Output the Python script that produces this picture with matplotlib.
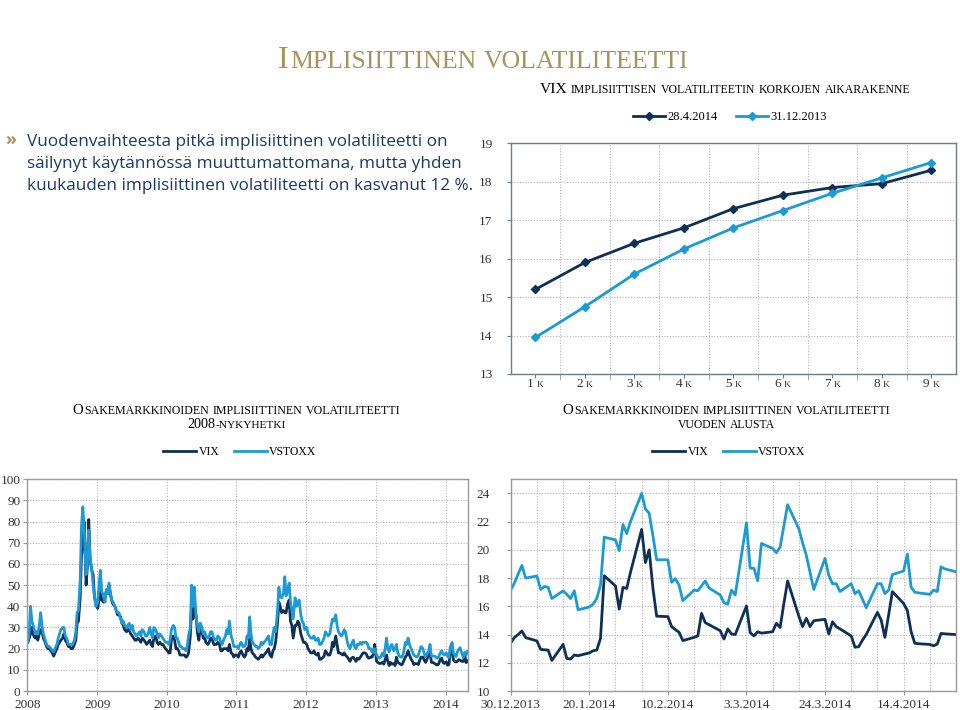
import matplotlib
matplotlib.use("Agg")
import matplotlib.pyplot as plt
import numpy as np
import pandas as pd

###############################################################
#                       data
###############################################################
terms = ["1 k", "2 k", "3 k", "4 k", "5 k", "6 k", "7 k", "8 k", "9 k"]
curve_2804 = [15.2, 15.9, 16.4, 16.8, 17.3, 17.65, 17.85, 17.95, 18.3]
curve_3112 = [13.95, 14.75, 15.6, 16.25, 16.8, 17.25, 17.7, 18.1, 18.5]

# 2008 - 2014, four readings per month (days 4, 11, 18, 25)
vix_long = [
    # 2008
    23, 25, 27, 30, 26, 25, 26, 24, 27, 29, 28, 25,
    23, 21, 20, 20, 19, 18, 16.5, 18, 20, 22, 23, 24,
    25, 27, 24, 23, 21, 21, 20, 20, 22, 24, 32, 33,
    44, 64, 69, 80, 50, 59, 81, 62, 57, 55, 44, 42,
    # 2009
    39, 43, 47, 43, 42, 45, 47, 46, 50, 46, 43, 41,
    40, 38, 36, 36, 35, 32, 31, 29, 28, 29, 29, 27,
    26, 25, 24, 24, 25, 24, 23, 25, 24, 23, 22, 23,
    24, 22, 21, 25, 26, 23, 22, 23, 22, 22, 21, 20,
    # 2010
    19, 18, 18, 24, 26, 24, 20, 20, 19, 17, 17, 17,
    17, 16, 16.5, 18, 26, 40, 34, 41, 35, 27, 24, 30,
    28, 25, 25, 23, 22, 23, 25, 25, 22, 22, 22, 23,
    22, 19, 19, 20, 20, 20, 19, 22, 18, 17.5, 16, 17,
    # 2011
    17, 16, 18, 19, 17, 16, 17, 20, 19, 25, 20, 18,
    17, 16, 15.5, 15, 16, 17, 16, 17, 18, 19, 20, 17,
    16, 19, 20, 23, 32, 42, 40, 37, 38, 37, 37, 41,
    43, 33, 31, 25, 31, 31, 33, 32, 27, 25, 23, 23,
    # 2012
    22, 20, 19, 18, 18, 19, 17.5, 17, 18, 15, 15, 15.5,
    16.5, 19, 18, 17, 17, 19, 23, 21, 26, 22, 18, 18,
    17.5, 17, 18, 17, 16, 15, 14, 15.5, 16, 15, 14, 15.5,
    15, 16, 17, 18, 18, 17.5, 16, 15.5, 16, 16, 17.5, 22,
    # 2013
    14, 13.5, 13, 13, 13.5, 12.7, 15, 17, 14, 12, 13.5, 12.7,
    13, 12, 16, 13.5, 13, 12.5, 12.5, 14, 16, 17, 19, 17,
    15, 14, 12.5, 13, 12.8, 12.5, 14.5, 16, 16, 14.5, 13.5, 15,
    17, 19, 13.5, 13.5, 13, 12.5, 12.3, 12.7, 15, 15.5, 13.5, 13,
    # 2014
    13.8, 12.2, 12.5, 18.2, 19.1, 14.6, 13.9, 13.7,
    14.1, 14.8, 14.6, 14.0, 14.0, 17.0, 13.4, 14.1,
]
vstoxx_long = [
    # 2008
    23, 28, 40, 33, 30, 27, 28, 27, 31, 37, 31, 27,
    24, 22, 21, 21, 20, 19, 18.5, 20, 22, 25, 27, 29,
    30, 30, 26, 25, 22, 22, 22, 22, 24, 28, 37, 38,
    52, 78, 87, 76, 55, 60, 76, 63, 57, 50, 45, 40,
    # 2009
    42, 50, 57, 47, 45, 42, 48, 46, 51, 47, 43, 42,
    40, 38, 37, 37, 34, 32, 33, 31, 30, 31, 32, 29,
    31, 28, 27, 26, 27, 28, 26, 29, 28, 26, 26, 27,
    30, 27, 25, 30, 29, 27, 25, 27, 26, 25, 24, 23,
    # 2010
    23, 22, 24, 29, 31, 30, 25, 25, 23, 21, 21, 20,
    20, 19, 21, 26, 30, 50, 40, 49, 34, 31, 28, 32,
    30, 27, 28, 26, 25, 26, 28, 28, 25, 24, 24, 26,
    25, 23, 22, 24, 26, 29, 27, 33, 26, 24, 21, 21,
    # 2011
    21, 20, 22, 23, 21, 21, 22, 26, 25, 35, 27, 23,
    22, 21, 21, 20, 21, 23, 22, 23, 24, 25, 26, 22,
    22, 27, 30, 28, 38, 49, 45, 44, 46, 54, 45, 47,
    51, 42, 38, 34, 44, 40, 41, 43, 36, 33, 32, 29,
    # 2012
    30, 27, 26, 25, 25, 26, 24, 24, 25, 22, 22, 23,
    25, 28, 27, 26, 27, 31, 34, 33, 36, 31, 28, 27,
    26, 27, 29, 28, 23, 21, 20, 22, 24, 21, 20, 22,
    22, 23, 22, 23, 23, 23, 22, 20, 20, 18.5, 18, 20,
    # 2013
    17, 16, 15.5, 16, 18, 16.5, 20, 25, 20, 18.5, 21, 22,
    19, 20, 22, 18, 16.5, 16, 16, 18, 23, 22, 25, 22,
    20, 18.5, 17, 16.5, 16, 17, 19, 21, 20, 17.5, 16, 17.5,
    19, 22, 16.5, 16.5, 16.5, 16, 15.5, 16, 18, 19, 17.5, 17,
    # 2014
    18.0, 16.6, 15.8, 20.9, 22.9, 17.7, 17.1, 16.3,
    18.7, 19.8, 20.5, 18.2, 15.9, 18.3, 17.0, 18.7,
]

# 30.12.2013 - 28.4.2014, every weekday
vix_ytd = [
    13.42, 13.8, 14.0, 14.25, 13.78,
    13.55, 12.95, 12.92, 12.9, 12.17,
    13.3, 12.3, 12.27, 12.55, 12.5,
    12.7, 12.85, 12.9, 13.73, 18.17,
    17.44, 15.8, 17.34, 17.27, 18.4,
    21.45, 19.1, 20.0, 17.3, 15.3,
    15.27, 14.56, 14.35, 14.16, 13.57,
    13.8, 13.9, 15.5, 14.84, 14.7,
    14.27, 13.68, 14.4, 14.04, 14.0,
    16.02, 14.13, 13.9, 14.2, 14.1,
    14.2, 14.8, 14.5, 16.2, 17.8,
    15.3, 14.56, 15.15, 14.56, 14.98,
    15.08, 14.04, 14.9, 14.56, 14.4,
    13.9, 13.1, 13.14, 13.6, 14.0,
    15.57, 15.03, 13.8, 15.4, 17.04,
    16.2, 15.7, 14.2, 13.38, 13.35,
    13.3, 13.2, 13.33, 14.08, 14.05,
    14.0,
]
vstoxx_ytd = [
    17.15, 17.65, 18.3, 18.9, 18.0,
    18.15, 17.2, 17.4, 17.35, 16.55,
    17.1, 16.85, 16.55, 17.1, 15.75,
    15.95, 16.15, 16.55, 17.5, 20.9,
    20.7, 19.95, 21.8, 21.15, 22.0,
    24.0, 22.9, 22.6, 21.0, 19.3,
    19.3, 17.7, 17.95, 17.5, 16.4,
    17.15, 17.1, 17.45, 17.8, 17.3,
    16.8, 16.25, 16.15, 17.15, 16.8,
    21.9, 18.7, 18.7, 17.8, 20.45,
    20.1, 19.8, 20.2, 21.7, 23.2,
    21.5, 20.5, 19.6, 18.4, 17.2,
    19.4, 18.2, 17.6, 17.6, 17.05,
    17.6, 16.9, 17.1, 16.5, 15.9,
    17.6, 17.6, 16.9, 17.15, 18.25,
    18.5, 19.7, 17.35, 17.0, 16.95,
    16.85, 17.15, 17.05, 18.8, 18.65,
    18.45,
]

dates_long = [pd.Timestamp(y, m, d) for y in range(2008, 2015) for m in range(1, 13)
              for d in (4, 11, 18, 25)]
dates_long = [d for d in dates_long if d <= pd.Timestamp(2014, 4, 28)]
dates_ytd = pd.bdate_range("2013-12-30", "2014-04-28")

###############################################################
#                       style
###############################################################
W, H = 960, 710
DARK = "#0e2f56"
LIGHT = "#1b9ad6"
GOLD = "#a8935c"
GRID = "#b3b3b3"
FRAME = "#9a9a9a"
SERIF = "Liberation Serif"

fig = plt.figure(figsize=(9.6, 7.1), dpi=100)
renderer = fig.canvas.get_renderer()


def fpos(x, y):
    return x / W, 1 - y / H


def case_runs(word):
    runs = []
    for ch in word:
        big = ch.isupper() or ch.isdigit()
        if runs and runs[-1][1] == big:
            runs[-1][0] += ch
        else:
            runs.append([ch, big])
    return runs


def small_caps(x, y, s, size, color="black", ha="center", ratio=0.8, width=None):
    # fake small caps: capitals at full size, the rest as smaller capitals
    def layout(sz):
        a = fig.text(0, 0, "II", fontsize=sz * ratio, family=SERIF)
        b = fig.text(0, 0, "I I", fontsize=sz * ratio, family=SERIF)
        gap = b.get_window_extent(renderer).width - a.get_window_extent(renderer).width
        a.remove()
        b.remove()
        items, xc = [], 0
        for i, word in enumerate(s.split(" ")):
            if i:
                xc += gap
            for chunk, big in case_runs(word):
                t = fig.text(0, 0, chunk.upper(), fontsize=sz if big else sz * ratio,
                             family=SERIF, color=color, va="baseline", ha="left")
                items.append((t, xc))
                xc += t.get_window_extent(renderer).width + 0.6 * sz / 10
        return items, xc

    items, total = layout(size)
    if width is not None:
        for t, _ in items:
            t.remove()
        items, total = layout(size * width / total)
    if ha == "center":
        start = x - total / 2
    elif ha == "right":
        start = x - total
    else:
        start = x
    for t, off in items:
        t.set_position(fpos(start + off, y))


def style_axes(ax, frame=FRAME):
    for sp in ax.spines.values():
        sp.set_color(frame)
        sp.set_linewidth(1.0)
    ax.tick_params(colors="#333333", labelsize=9.5, length=3, color=frame)
    for lab in ax.get_xticklabels() + ax.get_yticklabels():
        lab.set_family(SERIF)


###############################################################
#                       texts
###############################################################
small_caps(484, 68, "Implisiittinen volatiliteetti", 23, color=GOLD, ratio=0.8, width=412)
small_caps(911, 93, "VIX implisiittisen volatiliteetin korkojen aikarakenne", 11,
           ha="right", ratio=0.76, width=370)

para = ["Vuodenvaihteesta pitkä implisiittinen volatiliteetti on",
        "säilynyt käytännössä muuttumattomana, mutta yhden",
        "kuukauden implisiittinen volatiliteetti on kasvanut 12 %."]
probe = fig.text(0, 0, para[0], fontsize=10, family="Open Sans")
psize = 10 * 420 / probe.get_window_extent(renderer).width
probe.remove()
for i, line in enumerate(para):
    fig.text(*fpos(27, 146 + 22 * i), line, fontsize=psize, family="Open Sans",
             color="#1b3a66", va="baseline")
fig.text(*fpos(5, 145), "»", fontsize=psize * 1.05, family="Open Sans", color=GOLD,
         va="baseline", fontweight="bold")

small_caps(237, 414, "Osakemarkkinoiden implisiittinen volatiliteetti", 11, width=330)
small_caps(237, 428, "2008-nykyhetki", 11, width=100)
small_caps(727, 414, "Osakemarkkinoiden implisiittinen volatiliteetti", 11, width=330)
small_caps(727, 428, "vuoden alusta", 11, width=98)

###############################################################
#                   term structure (top right)
###############################################################
ax1 = fig.add_axes([510.7 / W, 1 - 374 / H, 445.3 / W, 230.7 / H])
xs = np.arange(1, len(terms) + 1)
ax1.plot(xs, curve_2804, color=DARK, lw=2, marker="D", ms=4.5, label="28.4.2014")
ax1.plot(xs, curve_3112, color=LIGHT, lw=2, marker="D", ms=4.5, label="31.12.2013")
ax1.set_xlim(0.5, 9.5)
ax1.set_ylim(13, 19)
ax1.set_yticks(range(13, 20))
ax1.set_xticks(xs)
ax1.set_xticklabels([])
ax1.set_xticks(np.arange(1.5, 9.5, 1), minor=True)
ax1.tick_params(axis="x", which="major", length=0)
ax1.tick_params(axis="x", which="minor", length=4, color=FRAME)
ax1.tick_params(axis="y", length=0, pad=10)
ax1.grid(axis="y", color=GRID, ls=(0, (1, 1.5)), lw=0.8)
ax1.grid(axis="x", which="minor", color=GRID, ls=(0, (1, 1.5)), lw=0.8)
style_axes(ax1, frame="#6f7d88")
ax1.legend(loc="center", bbox_to_anchor=fpos(730, 117), bbox_transform=fig.transFigure,
           ncol=2, frameon=False, handlelength=2.6, columnspacing=1.4, handletextpad=0.2,
           prop={"family": SERIF, "size": 9})
for xi, term in zip(xs, terms):
    xd, _ = ax1.transData.transform((xi, 13))
    small_caps(xd, 387, term, 9.5, color="#333333", ratio=0.72)

###############################################################
#                   2008 - now (bottom left)
###############################################################
ax2 = fig.add_axes([27.3 / W, 1 - 691 / H, 440.7 / W, 211.7 / H])
ax2.plot(dates_long, vix_long, color=DARK, lw=2, label="VIX")
ax2.plot(dates_long, vstoxx_long, color=LIGHT, lw=2, label="VSTOXX")
ax2.set_xlim(pd.Timestamp(2008, 1, 1), pd.Timestamp(2014, 4, 28))
ax2.set_ylim(0, 100)
ax2.set_yticks(range(0, 101, 10))
years = [pd.Timestamp(y, 1, 1) for y in range(2008, 2015)]
ax2.set_xticks(years)
ax2.set_xticklabels([str(d.year) for d in years])
ax2.grid(color=GRID, ls=(0, (1, 1.5)), lw=0.8)
ax2.tick_params(axis="y", pad=2)
ax2.tick_params(axis="x", pad=3)
style_axes(ax2)
ax2.legend(loc="center", bbox_to_anchor=fpos(240, 452), bbox_transform=fig.transFigure,
           ncol=2, frameon=False, handlelength=2.8, columnspacing=1.2, handletextpad=0.2,
           prop={"family": SERIF, "size": 8.5})

###############################################################
#                   year to date (bottom right)
###############################################################
ax3 = fig.add_axes([510.7 / W, 1 - 691 / H, 445.3 / W, 211.7 / H])
ax3.plot(dates_ytd, vix_ytd, color=DARK, lw=2, label="VIX")
ax3.plot(dates_ytd, vstoxx_ytd, color=LIGHT, lw=2, label="VSTOXX")
ax3.set_xlim(dates_ytd[0], dates_ytd[-1])
ax3.set_ylim(10, 25)
ax3.set_yticks(range(10, 25, 2))
major = pd.date_range("2013-12-30", periods=6, freq="21D")
ax3.set_xticks(major)
ax3.set_xticklabels([f"{d.day}.{d.month}.{d.year}" for d in major])
ax3.set_xticks(pd.date_range("2013-12-30", "2014-04-28", freq="7D"), minor=True)
ax3.tick_params(axis="x", which="minor", length=0)
ax3.grid(axis="x", which="both", color=GRID, ls=(0, (1, 1.5)), lw=0.8)
ax3.grid(axis="y", color=GRID, ls=(0, (1, 1.5)), lw=0.8)
ax3.tick_params(axis="y", length=0, pad=12)
ax3.tick_params(axis="x", pad=3)
style_axes(ax3)
ax3.legend(loc="center", bbox_to_anchor=fpos(729, 452), bbox_transform=fig.transFigure,
           ncol=2, frameon=False, handlelength=2.8, columnspacing=1.2, handletextpad=0.2,
           prop={"family": SERIF, "size": 8.5})

fig.savefig("out.png", dpi=100)
